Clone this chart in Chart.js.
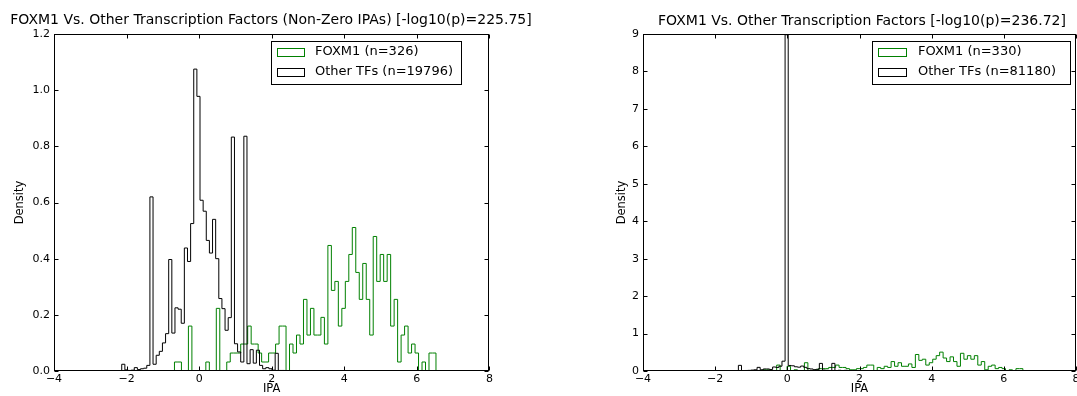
<!DOCTYPE html>
<html><head><meta charset="utf-8">
<script src="https://cdn.jsdelivr.net/npm/chart.js@4.4.1/dist/chart.umd.min.js"></script>
<style>
html,body{margin:0;padding:0;background:#fff;width:1077px;height:396px;overflow:hidden;}
#c1{position:absolute;left:0;top:0;}
#c2{position:absolute;left:545px;top:0;}
</style></head><body>
<canvas id="c1" width="545" height="396"></canvas>
<canvas id="c2" width="532" height="396"></canvas>
<script>
// ---------------- data ----------------
const xTickValues = [-4, -2, 0, 2, 4, 6, 8];
const leftYTickValues = [0, 0.2, 0.4, 0.6, 0.8, 1.0, 1.2];
const rightYTickValues = [0, 1, 2, 3, 4, 5, 6, 7, 8, 9];

const leftTitle = "FOXM1 Vs. Other Transcription Factors (Non-Zero IPAs) [-log10(p)=225.75]";
const rightTitle = "FOXM1 Vs. Other Transcription Factors [-log10(p)=236.72]";
const leftLabels = ["FOXM1 (n=326)", "Other TFs (n=19796)"];
const rightLabels = ["FOXM1 (n=330)", "Other TFs (n=81180)"];

// histogram bins (IPA units)
const foxBinStart = -0.68, foxBinWidth = 0.0961;
const otherBinStart = -2.91, otherBinWidth = 0.0863;

const foxLeftDensity = [0.032,0.032,0,0,0.160,0,0,0,0,0.032,0,0,0.223,0,0,0.032,0.064,0.064,0.064,0.096,0.096,0.160,0.096,0.096,0.064,0.032,0.032,0.064,0.064,0.096,0.160,0.160,0,0.096,0.064,0.128,0.096,0.255,0.128,0.223,0.128,0.128,0.191,0.096,0.447,0.287,0.319,0.160,0.223,0.319,0.415,0.511,0.351,0.255,0.383,0.255,0.128,0.479,0.319,0.415,0.319,0.415,0.160,0.255,0.032,0.128,0.160,0.064,0.096,0.064,0,0.032,0,0.064,0.064];
const otherLeftDensity = [0,0,0,0,0,0,0,0,0,0.024,0.004,0.002,0.003,0.012,0.005,0.008,0.010,0.020,0.620,0.024,0.056,0.070,0.100,0.133,0.397,0.135,0.225,0.220,0.170,0.438,0.390,0.525,1.075,0.978,0.608,0.569,0.465,0.420,0.540,0.400,0.258,0.222,0.145,0.190,0.833,0.097,0.068,0.032,0.836,0.026,0.076,0.028,0.074,0.020,0.008,0.012,0.008,0.003,0.063,0.002,0.002,0.001,0.001,0.001,0.001,0.001,0.001,0.001,0.001,0.001,0.001,0.001,0.001,0.001,0.001];

const foxRightDensity = [0.032,0.032,0,0,0.158,0,0,0.126,0,0.032,0,0,0.221,0,0,0.032,0.063,0.063,0.063,0.095,0.095,0.158,0.095,0.095,0.063,0.032,0.032,0.063,0.063,0.095,0.158,0.158,0,0.095,0.063,0.126,0.095,0.252,0.126,0.221,0.126,0.126,0.189,0.095,0.441,0.284,0.315,0.158,0.221,0.315,0.410,0.504,0.347,0.252,0.378,0.252,0.126,0.473,0.315,0.410,0.315,0.410,0.158,0.252,0.032,0.126,0.158,0.063,0.095,0.063,0,0.032,0,0.063,0.063];
const otherRightDensity = [0,0,0,0,0,0,0,0,0,0.006,0.001,0.001,0.001,0.003,0.001,0.002,0.002,0.005,0.151,0.006,0.014,0.017,0.024,0.032,0.097,0.033,0.055,0.054,0.041,0.107,0.095,0.128,0.262,8.98,0.148,0.139,0.113,0.102,0.132,0.098,0.063,0.054,0.035,0.046,0.203,0.024,0.017,0.008,0.204,0.006,0.019,0.007,0.018,0.005,0.002,0.003,0.002,0.001,0.015,0,0,0,0,0,0,0,0,0,0,0,0,0,0,0,0];

// ---------------- helpers ----------------
const FONT = "'DejaVu Sans', 'Liberation Sans', sans-serif";
Chart.defaults.font.family = FONT;
Chart.defaults.color = '#000';

function histPoints(start, width, dens) {
  const pts = [{x: start, y: 0}];
  dens.forEach((d, i) => pts.push({x: start + i * width, y: d}));
  const end = start + dens.length * width;
  pts.push({x: end, y: dens[dens.length - 1]});
  pts.push({x: end, y: 0});
  return pts;
}
const fmtX = v => v < 0 ? '\u2212' + Math.abs(v) : String(v);

const decor = {
  id: 'mplDecor',
  afterDraw(chart, args, o) {
    const ctx = chart.ctx, a = chart.chartArea;
    const xs = chart.scales.x, ys = chart.scales.y;
    ctx.save();
    ctx.strokeStyle = '#000';
    ctx.lineWidth = 1;
    const L = Math.round(a.left) + 0.5, R = Math.round(a.right) - 0.5;
    const T = Math.round(a.top) + 0.5, B = Math.round(a.bottom) - 0.5;
    ctx.strokeRect(L, T, R - L, B - T);
    // inward ticks
    const tl = 4;
    ctx.beginPath();
    xs.ticks.forEach(t => {
      const p = Math.round(xs.getPixelForValue(t.value)) + 0.5;
      ctx.moveTo(p, B); ctx.lineTo(p, B - tl);
      ctx.moveTo(p, T); ctx.lineTo(p, T + tl);
    });
    ys.ticks.forEach(t => {
      const p = Math.round(ys.getPixelForValue(t.value)) + 0.5;
      ctx.moveTo(L, p); ctx.lineTo(L + tl, p);
      ctx.moveTo(R, p); ctx.lineTo(R - tl, p);
    });
    ctx.stroke();
    // title
    ctx.fillStyle = '#000';
    ctx.font = '14px ' + FONT;
    ctx.textAlign = 'center';
    ctx.textBaseline = 'alphabetic';
    ctx.fillText(o.title, o.titleX, o.titleY);
    // legend
    const lg = o.legend;
    ctx.fillStyle = '#fff';
    ctx.fillRect(lg.x, lg.y, lg.w, lg.h);
    ctx.strokeStyle = '#000';
    ctx.strokeRect(lg.x + 0.5, lg.y + 0.5, lg.w, lg.h);
    ctx.font = '13px ' + FONT;
    ctx.textAlign = 'left';
    ctx.textBaseline = 'middle';
    chart.data.datasets.forEach((ds, i) => {
      const cy = lg.rows[i];
      ctx.strokeStyle = ds.borderColor;
      ctx.lineWidth = 1;
      ctx.strokeRect(lg.handleX + 0.5, Math.round(cy - 4) + 0.5, lg.handleW, 8);
      ctx.fillStyle = '#000';
      ctx.fillText(ds.label, lg.textX, cy);
    });
    ctx.restore();
  }
};

function makeChart(id, c) {
  return new Chart(document.getElementById(id), {
    type: 'line',
    data: {datasets: [
      {label: c.labels[0], data: histPoints(foxBinStart, foxBinWidth, c.fox), borderColor: '#008000', borderWidth: 1, pointRadius: 0, stepped: true, fill: false, order: 1},
      {label: c.labels[1], data: histPoints(otherBinStart, otherBinWidth, c.other), borderColor: '#000000', borderWidth: 1, pointRadius: 0, stepped: true, fill: false, order: 0}
    ]},
    options: {
      responsive: false, animation: false,
      layout: {padding: {top: 34, right: c.padRight, left: 0, bottom: 0}},
      plugins: {legend: {display: false}, tooltip: {enabled: false}, title: {display: false},
        mplDecor: {title: c.title, titleX: c.titleX, titleY: c.titleY, legend: c.legend}},
      scales: {
        x: {type: 'linear', min: -4, max: 8,
          afterBuildTicks: s => { s.ticks = xTickValues.map(v => ({value: v})); },
          ticks: {callback: fmtX, font: {size: 11}, color: '#000', padding: 2, maxRotation: 0, autoSkip: false},
          grid: {display: false, drawTicks: false}, border: {display: false},
          title: {display: true, text: 'IPA', font: {size: 11.5}, color: '#000', padding: {top: 0, bottom: 0}},
          afterFit: s => { s.height = 25; s.paddingLeft = 0; s.paddingRight = 0; }
        },
        y: {type: 'linear', min: 0, max: c.yMax,
          afterBuildTicks: s => { s.ticks = c.yTicks.map(v => ({value: v})); },
          ticks: {callback: c.yFmt, font: {size: 11}, color: '#000', padding: 4, autoSkip: false},
          grid: {display: false, drawTicks: false}, border: {display: false},
          title: {display: true, text: 'Density', font: {size: 11.5}, color: '#000', padding: {top: c.yTitlePad, bottom: 0}},
          afterFit: s => { s.width = c.yWidth; s.paddingTop = 0; s.paddingBottom = 0; }
        }
      }
    },
    plugins: [decor]
  });
}

makeChart('c1', {
  labels: leftLabels, fox: foxLeftDensity, other: otherLeftDensity,
  yMax: 1.2, yTicks: leftYTickValues, yFmt: v => v.toFixed(1),
  yWidth: 54, yTitlePad: 13, padRight: 55.6,
  title: leftTitle, titleX: 271, titleY: 24,
  legend: {x: 271, y: 41, w: 190, h: 43, handleX: 277, handleW: 27, textX: 315, rows: [52, 72]}
});
makeChart('c2', {
  labels: rightLabels, fox: foxRightDensity, other: otherRightDensity,
  yMax: 9, yTicks: rightYTickValues, yFmt: v => String(v),
  yWidth: 98, yTitlePad: 70, padRight: 1,
  title: rightTitle, titleX: 317, titleY: 25,
  legend: {x: 327, y: 41, w: 198, h: 43, handleX: 333, handleW: 28, textX: 373, rows: [52, 72]}
});
</script>
</body></html>
